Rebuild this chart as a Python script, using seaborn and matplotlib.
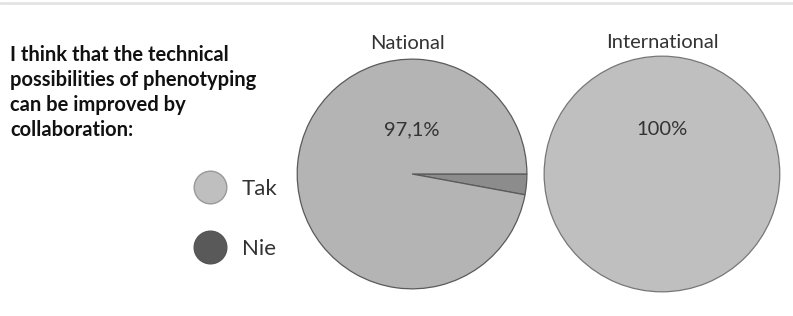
import matplotlib
matplotlib.use('Agg')
import matplotlib.pyplot as plt
from matplotlib.lines import Line2D
import seaborn as sns

# data
categories = ['Nie', 'Tak']
national = [2.9, 97.1]
international = [0.0, 100.0]
national_label = '97,1%'
international_label = '100%'
question = 'I think that the technical\npossibilities of phenotyping\ncan be improved by\ncollaboration:'

sns.set_theme(style='white')
plt.rcParams['font.family'] = ['Lato', 'DejaVu Sans']

fig = plt.figure(figsize=(7.93, 3.16), dpi=100)

# thin rule at top
fig.add_artist(Line2D([0, 1], [0.99, 0.99], transform=fig.transFigure, color='#e3e3e3', lw=2))

edge = '#5a5a5a'

# national pie
ax1 = fig.add_axes([0.3733, 0.0823, 0.2926, 0.7342])
ax1.pie(national, colors=['#8c8c8c', '#b4b4b4'], startangle=0, counterclock=False,
        wedgeprops=dict(edgecolor=edge, linewidth=0.9))
ax1.set_xlim(-1.01, 1.01)
ax1.set_ylim(-1.01, 1.01)
ax1.text(0, 0.38, national_label, ha='center', va='center', fontsize=14.5, color='#333333')
ax1.text(-0.04, 1.06, 'National', ha='center', va='bottom', fontsize=14.5, color='#333333')

# international pie
ax2 = fig.add_axes([0.6847, 0.0728, 0.3001, 0.7532])
ax2.pie(international, colors=['#595959', '#bfbfbf'], startangle=0, counterclock=False,
        wedgeprops=dict(edgecolor='#777777', linewidth=0.9))
ax2.set_xlim(-1.01, 1.01)
ax2.set_ylim(-1.01, 1.01)
ax2.text(0, 0.38, international_label, ha='center', va='center', fontsize=14.5, color='#333333')
ax2.text(0, 1.04, 'International', ha='center', va='bottom', fontsize=14.5, color='#333333')

# question text
fig.text(0.013, 0.858, question, ha='left', va='top', fontsize=14.5, fontweight='bold',
         color='#111111', linespacing=1.32)

# legend
handles = [Line2D([], [], marker='o', ls='', markersize=23.5, markerfacecolor='#bfbfbf',
                  markeredgecolor='#999999'),
           Line2D([], [], marker='o', ls='', markersize=23.5, markerfacecolor='#595959',
                  markeredgecolor='#555555')]
fig.legend(handles, ['Tak', 'Nie'], loc='upper left', bbox_to_anchor=(0.211, 0.497),
           frameon=False, fontsize=16, labelspacing=1.78, handletextpad=0.45,
           labelcolor='#333333')

fig.savefig('out.png', dpi=100)
